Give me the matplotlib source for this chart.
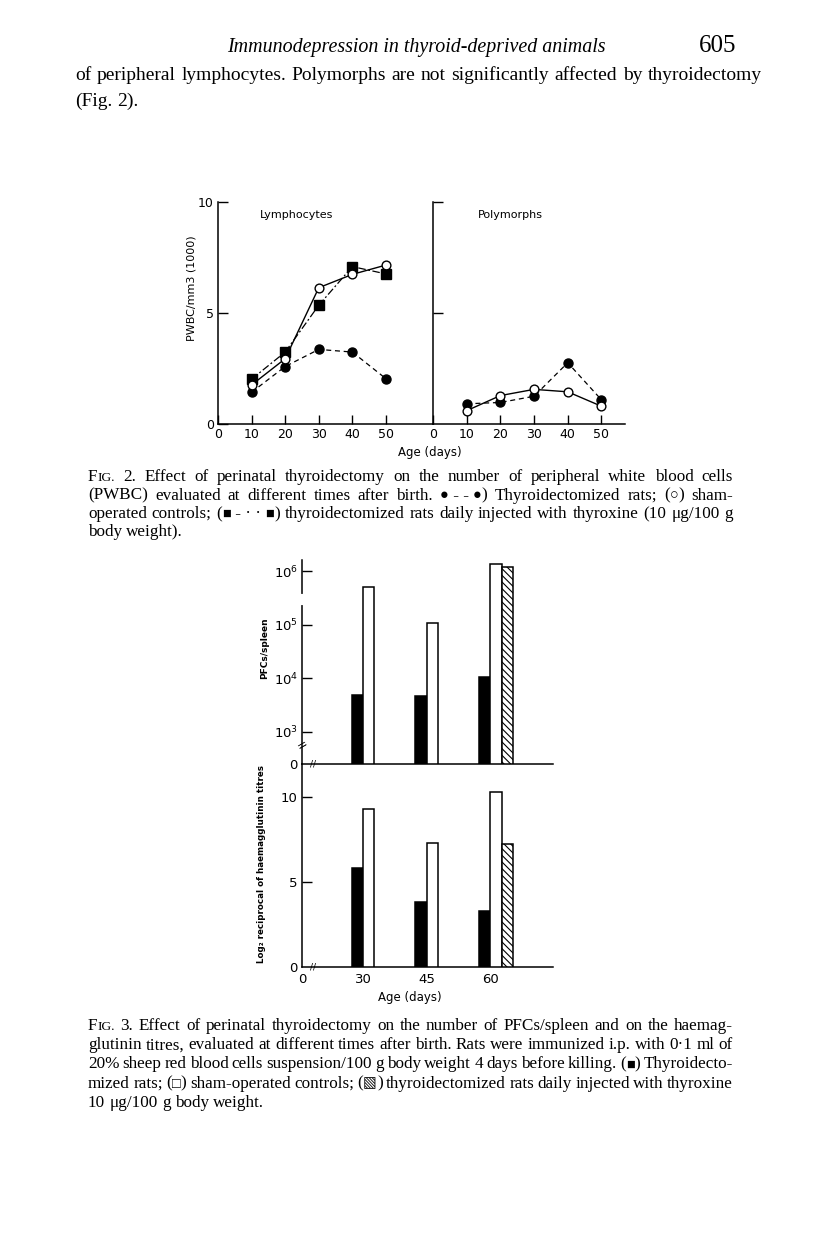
import numpy as np
import matplotlib
matplotlib.use('Agg')
import matplotlib.pyplot as plt

# Fig. 2 data (PWBC/mm3, thousands)
days = [10, 20, 30, 40, 50]
lym_thx = [1.43, 2.59, 3.36, 3.24, 2.04]      # thyroidectomized (filled circles)
lym_sham = [1.76, 2.94, 6.14, 6.74, 7.16]     # sham-operated (open circles)
lym_thyrox = [2.02, 3.24, 5.35, 7.09, 6.76]   # thyroxine injected (squares)
poly_thx = [0.91, 0.97, 1.25, 2.76, 1.09]
poly_sham = [0.60, 1.28, 1.56, 1.45, 0.80]

# Fig. 3 data
ages = ['30', '45', '60']
pfc_thx = [4800, 4600, 10700]
pfc_sham = [5.0e5, 1.07e5, 1.35e6]
pfc_thyrox = [np.nan, np.nan, 1.18e6]
ha_thx = [5.8, 3.8, 3.3]
ha_sham = [9.3, 7.3, 10.3]
ha_thyrox = [np.nan, np.nan, 7.25]

W, H = 816, 1236
SERIF = ['Liberation Serif', 'DejaVu Serif']
SANS = ['DejaVu Sans']
SYMBOLS = '\u25cf\u25cb\u25a0\u25a1\u25a7'
plt.rcParams['hatch.linewidth'] = 0.8

fig = plt.figure(figsize=(W / 100, H / 100), dpi=100)
renderer = fig.canvas.get_renderer()


def px_axes(l, t, r, b):
    return fig.add_axes([l / W, 1 - b / H, (r - l) / W, (b - t) / H])


def T(x, y, s, **kw):
    return fig.text(x / W, 1 - y / H, s, **kw)


def split_word(w):
    # small caps for FIG., smaller size for the legend symbols
    if w.startswith('FIG.'):
        return [('F', 1.0), ('IG.', 0.78)]
    parts = []
    for ch in w.replace('~', ' '):
        k = 0.85 if ch in SYMBOLS else 1.0
        if parts and parts[-1][1] == k:
            parts[-1] = (parts[-1][0] + ch, k)
        else:
            parts.append((ch, k))
    return parts


def put_line(y, line, x0, x1=None, size=12.0):
    # draws one line of serif text, justified between x0 and x1
    items = []
    for w in line.split(' '):
        pieces = []
        for s, k in split_word(w):
            t = T(0, y, s, fontsize=size * k, family=SERIF, va='baseline', ha='left')
            pieces.append((t, t.get_window_extent(renderer).width))
        items.append(pieces)
    widths = [sum(wd for _, wd in p) for p in items]
    if x1 is None or len(items) < 2:
        gap = size * 100 / 72 * 0.25
    else:
        gap = (x1 - x0 - sum(widths)) / (len(items) - 1)
    x = x0
    for pieces in items:
        for t, wd in pieces:
            t.set_position((x / W, 1 - y / H))
            x += wd
        x += gap


# page header and running text
T(416, 52, 'Immunodepression in thyroid-deprived animals', fontsize=14.4, family=SERIF,
  style='italic', ha='center', va='baseline')
T(736, 52, '605', fontsize=18, family=SERIF, ha='right', va='baseline')
put_line(80, 'of peripheral lymphocytes. Polymorphs are not significantly affected by thyroidectomy',
         75, 762, size=14.0)
put_line(106, '(Fig. 2).', 75, None, size=14.0)

# ---------------- Fig. 2 ----------------
axL = px_axes(218, 202, 433, 424)
axR = px_axes(433, 202, 625, 424)
for ax, xmax in ((axL, 64), (axR, 57)):
    ax.set_xlim(0, xmax)
    ax.set_ylim(0, 10)
    for s in ('top', 'right'):
        ax.spines[s].set_visible(False)
    for s in ('left', 'bottom'):
        ax.spines[s].set_linewidth(1.1)
    ax.set_xticks([0, 10, 20, 30, 40, 50])
    ax.set_xticklabels(['0', '10', '20', '30', '40', '50'], family=SANS, fontsize=9)
    ax.tick_params(axis='x', direction='in', length=6.5, width=1.0, pad=3)
    ax.tick_params(axis='y', direction='in', length=7.2, width=1.0, pad=3)
    ax.patch.set_alpha(0)

axL.set_yticks([0, 5, 10])
axL.set_yticklabels(['0', '5', '10'], family=SANS, fontsize=9)
axR.set_yticks([5, 10])
axR.set_yticklabels([])

kw_thx = dict(color='black', lw=0.9, ls=(0, (4, 3)), marker='o', ms=6.5, mfc='black', zorder=3)
kw_sham = dict(color='black', lw=1.0, ls='-', marker='o', ms=6.3, mfc='white', mew=1.0, zorder=4)
kw_thyrox = dict(color='black', lw=0.9, ls=(0, (6, 2, 1.5, 2)), marker='s', ms=7, mfc='black', zorder=3)

axL.plot(days, lym_thx, **kw_thx)
axL.plot(days, lym_thyrox, **kw_thyrox)
axL.plot(days, lym_sham, **kw_sham)
axR.plot(days, poly_thx, **kw_thx)
axR.plot(days, poly_sham, **kw_sham)
for ax in (axL, axR):
    for ln in ax.lines:
        ln.set_clip_on(False)

T(297, 215, 'Lymphocytes', fontsize=8, family=SANS, ha='center', va='center')
T(510, 215, 'Polymorphs', fontsize=8, family=SANS, ha='center', va='center')
T(192, 288, 'PWBC/mm3 (1000)', fontsize=8, family=SANS, rotation=90, ha='center', va='center')
T(430, 453, 'Age (days)', fontsize=8.5, family=SANS, ha='center', va='center')

cap2 = ['FIG. 2. Effect of perinatal thyroidectomy on the number of peripheral white blood cells',
        '(PWBC) evaluated at different times after birth. \u25cf~-~-~\u25cf) Thyroidectomized rats; (\u25cb) sham-',
        'operated controls; (\u25a0~-~\u00b7~\u00b7~\u25a0) thyroidectomized rats daily injected with thyroxine (10 \u03bcg/100 g',
        'body weight).']
for i, line in enumerate(cap2):
    put_line(481 + i * 18.5, line, 88, None if i == len(cap2) - 1 else 733, size=12.3)

# ---------------- Fig. 3 ----------------
PFC_ZERO = 2.40
pos = np.arange(1, len(ages) + 1)
bw = 0.18
axT = px_axes(302, 560, 553, 764)
axB = px_axes(302, 764, 553, 967)
for ax in (axT, axB):
    ax.set_xlim(0.04, 3.99)
    for s in ('top', 'right'):
        ax.spines[s].set_visible(False)
    for s in ('left', 'bottom'):
        ax.spines[s].set_linewidth(1.1)
    ax.tick_params(axis='y', direction='in', length=7, width=1.0, pad=3, labelsize=9.5)
    ax.patch.set_alpha(0)

axT.set_ylim(PFC_ZERO, 6.21)
axB.set_ylim(0, 11.94)

bar_kw = dict(width=bw, edgecolor='black', linewidth=1.1, zorder=3)
axT.bar(pos - bw / 2, np.log10(pfc_thx) - PFC_ZERO, bottom=PFC_ZERO, color='black', **bar_kw)
axT.bar(pos + bw / 2, np.log10(pfc_sham) - PFC_ZERO, bottom=PFC_ZERO, color='white', **bar_kw)
axT.bar(pos + 3 * bw / 2, np.log10(pfc_thyrox) - PFC_ZERO, bottom=PFC_ZERO, color='white',
        hatch='\\\\\\\\\\', **bar_kw)
axB.bar(pos - bw / 2, ha_thx, color='black', **bar_kw)
axB.bar(pos + bw / 2, ha_sham, color='white', **bar_kw)
axB.bar(pos + 3 * bw / 2, ha_thyrox, color='white', hatch='\\\\\\\\\\', **bar_kw)

axT.set_yticks([PFC_ZERO, 3, 4, 5, 6])
axT.set_yticklabels(['0', r'$10^3$', r'$10^4$', r'$10^5$', r'$10^6$'], family=SANS)
axT.get_yticklines()[0].set_visible(False)
axT.set_xticks([])
axB.set_yticks([0, 5, 10])
axB.set_yticklabels(['0', '5', '10'], family=SANS)
axB.get_yticklines()[0].set_visible(False)
axB.set_xticks([0.04] + list(pos))
axB.set_xticklabels(['0'] + ages, family=SANS, fontsize=9.5)
axB.tick_params(axis='x', length=0, pad=4)

# axis breaks
for ax, y0 in ((axT, PFC_ZERO), (axB, 0)):
    ax.text(0.21, y0, '//', fontsize=6.5, family=SANS, ha='center', va='center', zorder=5)
axT.text(0.04, 2.76, '=', fontsize=9, family=SANS, rotation=30, ha='center', va='center',
         zorder=5)
axT.plot([0.04, 0.04], [5.41, 5.53], color='white', lw=3, clip_on=False, zorder=6)

T(265, 648, 'PFCs/spleen', fontsize=6.5, family=SANS, weight='bold', rotation=90,
  ha='center', va='center')
T(262, 864, 'Log\u2082 reciprocal of haemagglutinin titres', fontsize=6.3, family=SANS,
  weight='bold', rotation=90, ha='center', va='center')
T(410, 997, 'Age (days)', fontsize=8.5, family=SANS, ha='center', va='center')

cap3 = ['FIG. 3. Effect of perinatal thyroidectomy on the number of PFCs/spleen and on the haemag-',
        'glutinin titres, evaluated at different times after birth. Rats were immunized i.p. with 0\u00b71 ml of',
        '20% sheep red blood cells suspension/100 g body weight 4 days before killing. (\u25a0) Thyroidecto-',
        'mized rats; (\u25a1) sham-operated controls; (\u25a7) thyroidectomized rats daily injected with thyroxine',
        '10 \u03bcg/100 g body weight.']
for i, line in enumerate(cap3):
    put_line(1030 + i * 19.2, line, 88, None if i == len(cap3) - 1 else 733, size=12.3)

fig.savefig('out.png', dpi=100)
